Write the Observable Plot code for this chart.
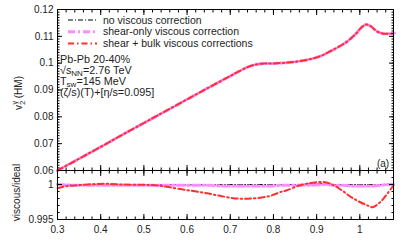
<!DOCTYPE html>
<html><head><meta charset="utf-8">
<script src="https://cdn.jsdelivr.net/npm/d3@7"></script>
<script src="https://cdn.jsdelivr.net/npm/@observablehq/plot@0.6"></script>
<style>
html,body{margin:0;padding:0;background:#fff;}
#wrap{position:relative;width:411px;height:247px;font-family:"Liberation Sans",Arial,sans-serif;}
#wrap svg{position:absolute;left:0;overflow:visible;}
</style></head>
<body><div id="wrap"></div>
<script>
// ---- data ----
const seriesNames = ["no viscous correction", "shear-only viscous correction", "shear + bulk viscous corrections"];
const ptX = [0.30,0.35,0.40,0.45,0.50,0.55,0.60,0.65,0.70,0.74,0.76,0.78,0.80,0.83,0.85,0.88,0.91,0.93,0.95,0.97,0.99,1.005,1.015,1.025,1.04,1.055,1.07,1.08];
const v2None  = [0.0600,0.0644,0.0688,0.0733,0.0777,0.0821,0.0865,0.0909,0.0952,0.0985,0.0995,0.0999,0.0999,0.1002,0.1005,0.1013,0.1027,0.1043,0.1060,0.1080,0.1108,0.1135,0.1144,0.1138,0.1118,0.1110,0.1110,0.1112];
const v2Shear = [0.0600,0.0644,0.0688,0.0733,0.0777,0.0821,0.0865,0.0909,0.0952,0.0985,0.0995,0.0999,0.0999,0.1002,0.1005,0.1013,0.1027,0.1043,0.1060,0.1080,0.1108,0.1135,0.1144,0.1138,0.1118,0.1110,0.1110,0.1112];
const v2Bulk  = [0.0600,0.0644,0.0688,0.0733,0.0777,0.0821,0.0865,0.0909,0.0952,0.0985,0.0995,0.0999,0.0999,0.1002,0.1005,0.1013,0.1027,0.1043,0.1060,0.1080,0.1108,0.1135,0.1144,0.1138,0.1118,0.1110,0.1110,0.1112];
const ratioX = [0.30,0.32,0.34,0.37,0.41,0.45,0.50,0.53,0.56,0.61,0.65,0.68,0.72,0.75,0.79,0.82,0.83,0.86,0.89,0.92,0.94,0.96,0.98,1.00,1.02,1.03,1.05,1.065,1.078];
const ratioNone  = [1.0000,1.0000,1.0000,1.0000,1.0000,1.0000,1.0000,1.0000,1.0000,1.0000,1.0000,1.0000,1.0000,1.0000,1.0000,1.0000,1.0000,1.0000,1.0001,1.0001,1.0000,1.0000,1.0000,1.0000,1.0000,1.0000,1.0000,1.0000,1.0000];
const ratioShear = [1.0000,0.99995,0.9999,0.9999,0.9999,0.9999,0.9999,0.9999,0.9999,0.9999,0.9999,0.9998,0.9998,0.9998,0.9998,0.9999,0.9999,0.9999,0.9999,1.0000,0.9999,0.9999,0.9998,0.9998,0.9998,0.9998,0.9999,1.0000,1.0000];
const ratioBulk  = [0.99947,0.99976,0.99986,1.0000,1.0001,1.0000,0.99995,0.99986,0.9996,0.9991,0.9987,0.99833,0.99797,0.9980,0.99833,0.9990,0.99914,0.99986,1.00024,1.00033,0.99986,0.9991,0.99819,0.9975,0.99695,0.99676,0.99765,0.9988,0.99986];
const xMajor = [0.3,0.4,0.5,0.6,0.7,0.8,0.9,1.0];
const xTickLabels = ["0.3","0.4","0.5","0.6","0.7","0.8","0.9","1"];
const yUpMajor = [0.06,0.07,0.08,0.09,0.10,0.11,0.12];
const yUpLabels = ["0.06","0.07","0.08","0.09","0.1","0.11","0.12"];
const yLowMajor = [0.995,1.0];
const yLowLabels = ["0.995","1"];
const annot = ["Pb-Pb 20-40%","√s_NN=2.76 TeV","T_sw=145 MeV","(ζ/s)(T)+[η/s=0.095]"];

// ---- styles ----
const styles = [
  {stroke:"#000", strokeWidth:1, dash:"5,2,1,2"},
  {stroke:"#ff8cff", strokeWidth:3, dash:"7,3,2,3"},
  {stroke:"#ff2f2f", strokeWidth:2, dash:"6,3,1.5,3"}
];
const FF = '"Liberation Sans",Arial,sans-serif';
const font = {fontFamily:FF, fontSize:"10px"};
const xDomain = [0.3, 1.078];
const xMinor = d3.range(0.30, 1.0781, 0.02).map(v=>+v.toFixed(2));

function rows(xs, ys, s){ return xs.map((x,i)=>({x, y:ys[i], s})); }
const upData = [rows(ptX,v2None,0), rows(ptX,v2Shear,1), rows(ptX,v2Bulk,2)];
const lowData = [rows(ratioX,ratioNone,0), rows(ratioX,ratioShear,1), rows(ratioX,ratioBulk,2)];

function lineMarks(data){
  return data.map((d,i)=>Plot.line(d,{x:"x",y:"y",curve:"catmull-rom",stroke:styles[i].stroke,strokeWidth:styles[i].strokeWidth,strokeDasharray:styles[i].dash}));
}
const blank = ()=>"";
function xAxes(labelled){
  const m = [
    Plot.axisX({anchor:"top",ticks:xMajor,tickSize:-5,tickFormat:blank,label:null}),
    Plot.axisX({anchor:"top",ticks:xMinor,tickSize:-2.5,tickFormat:blank,label:null}),
    Plot.axisX({anchor:"bottom",ticks:xMajor,tickSize:-5,tickFormat:blank,label:null}),
    Plot.axisX({anchor:"bottom",ticks:xMinor,tickSize:-2.5,tickFormat:blank,label:null})
  ];
  if(labelled) m.push(Plot.text(xMajor,{x:d=>d,frameAnchor:"bottom",dy:13,text:(d,i)=>xTickLabels[i],fontSize:10,fill:"#222",textAnchor:"middle"}));
  return m;
}
function yAxes(major, labels, minor){
  return [
    Plot.axisY({anchor:"left",ticks:major,tickSize:-5,tickFormat:blank,label:null}),
    Plot.axisY({anchor:"left",ticks:minor,tickSize:-2.5,tickFormat:blank,label:null}),
    Plot.axisY({anchor:"right",ticks:major,tickSize:-5,tickFormat:blank,label:null}),
    Plot.axisY({anchor:"right",ticks:minor,tickSize:-2.5,tickFormat:blank,label:null}),
    Plot.text(major,{y:d=>d,frameAnchor:"left",dx:-4,textAnchor:"end",text:(d,i)=>labels[i],fontSize:10,fill:"#222"})
  ];
}

const yUpMinor = d3.range(0.060, 0.1201, 0.001).map(v=>+v.toFixed(3));
const upper = Plot.plot({
  width:411, height:171, marginTop:9, marginBottom:1, marginLeft:57, marginRight:18,
  style:font,
  x:{domain:xDomain}, y:{domain:[0.06,0.12]},
  marks:[
    ...lineMarks(upData),
    ...xAxes(false),
    ...yAxes(yUpMajor, yUpLabels, yUpMinor),
    Plot.frame({stroke:"#000"})
  ]
});
const yLowMinor = d3.range(0.995, 1.0021, 0.001).map(v=>+v.toFixed(3));
const lower = Plot.plot({
  width:411, height:77, marginTop:0, marginBottom:28, marginLeft:57, marginRight:18,
  style:font,
  x:{domain:xDomain}, y:{domain:[0.995,1.002]},
  marks:[
    ...lineMarks(lowData),
    ...xAxes(true),
    ...yAxes(yLowMajor, yLowLabels, yLowMinor),
    Plot.frame({stroke:"#000"})
  ]
});
const wrap = document.getElementById("wrap");
upper.style.top = "0px"; lower.style.top = "170px";
wrap.appendChild(upper); wrap.appendChild(lower);

// ---- legend, annotations, titles (overlay text) ----
const g = d3.select(upper).append("g").attr("font-family",FF).attr("font-size",10).attr("fill","#222").attr("text-anchor","start");
seriesNames.forEach((n,i)=>{
  const yy = 20 + i*11.7;
  g.append("line").attr("x1",68).attr("x2",97).attr("y1",yy).attr("y2",yy)
    .attr("stroke",styles[i].stroke).attr("stroke-width",styles[i].strokeWidth).attr("stroke-dasharray",styles[i].dash);
  g.append("text").attr("x",103).attr("y",yy+3.6).attr("font-size",10.5).text(n);
});
annot.forEach((a,i)=>{
  const t = g.append("text").attr("x",60).attr("y",62.5+i*11.3).attr("font-size",10.8);
  const parts = a.split("_");
  if(parts.length===1){ t.text(a); }
  else {
    const m = parts[1].match(/^([A-Za-z]+)(.*)$/);
    t.append("tspan").text(parts[0]);
    t.append("tspan").attr("dy",2).attr("font-size",8).text(m[1]);
    t.append("tspan").attr("dy",-2).text(m[2]);
  }
});
g.append("text").attr("x",383).attr("y",166.5).attr("text-anchor","middle").text("(a)");
const yt = g.append("text").attr("transform","translate(22,93) rotate(-90)").attr("text-anchor","middle");
yt.append("tspan").text("v");
yt.append("tspan").attr("dy",2.5).attr("font-size",8).text("2");
yt.append("tspan").attr("dy",-8).attr("dx",-4).attr("font-size",7).text("γ");
yt.append("tspan").attr("dy",5.5).text(" (HM)");
d3.select(lower).append("text").attr("transform","translate(20,22.5) rotate(-90)").attr("text-anchor","middle")
  .attr("font-family",FF).attr("font-size",10).attr("fill","#222").text("viscous/ideal");
</script></body></html>
